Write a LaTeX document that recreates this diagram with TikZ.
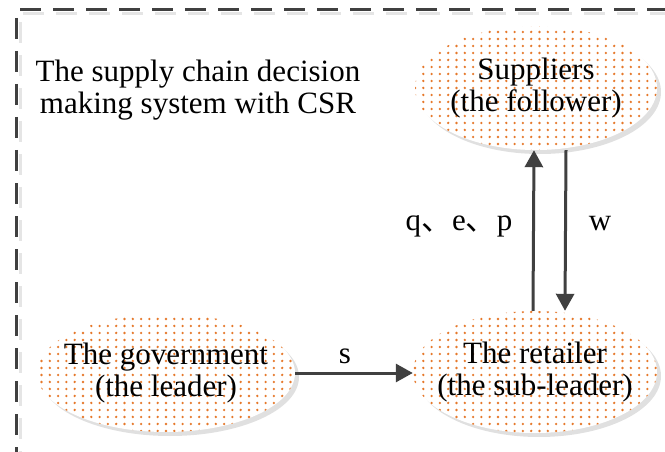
\documentclass[tikz,border=0pt]{standalone}
\usepackage{fontspec}
\setmainfont{Liberation Serif}
\newfontfamily\cjk{Noto Sans CJK SC}
\usetikzlibrary{arrows.meta,shapes.geometric,shadows,patterns}
% small orange dots on a regular grid
\pgfdeclarepatternformonly{orangedots}{\pgfqpoint{-2pt}{-2pt}}{\pgfqpoint{2pt}{2pt}}{\pgfqpoint{8.3pt}{7pt}}{\pgfpathcircle{\pgfpointorigin}{1.3pt}\pgfusepath{fill}}
\definecolor{dotorange}{HTML}{E6782A}
\definecolor{arrowgray}{HTML}{404040}
\tikzset{
  player/.style={ellipse, inner xsep=-25pt, inner ysep=0pt, align=center, fill=white,
    postaction={pattern=orangedots, pattern color=dotorange},
    drop shadow={shadow xshift=4pt, shadow yshift=-4pt, fill=black!12, opacity=1}},
  flow/.style={line width=3pt, draw=arrowgray, -{Triangle[length=17pt,width=18pt,fill=arrowgray]}},
  frame/.style={line width=3pt, draw=arrowgray, dash pattern=on 21pt off 12pt},
}

\begin{document}
\begin{tikzpicture}[x=1pt, y=-1pt, font=\fontsize{31pt}{32pt}\selectfont]
\useasboundingbox (0,0) rectangle (665,452);
\clip (0,0) rectangle (665,452);
% dashed frame, open to the right and bottom
\draw[frame, draw=black!10] (23,14) -- (680,14);
\draw[frame, draw=black!10] (20,22) -- (20,470);
\draw[frame] (20,10) -- (680,10);
\draw[frame] (16,18) -- (16,470);
% title
\node[align=center] (title) at (198,90) {The supply chain decision\\making system with CSR};
% the three players
\node[player, minimum width=242pt, minimum height=124pt] (supplier) at (536,88) {Suppliers\\(the follower)};
\node[player, minimum width=244pt, minimum height=122pt] (retailer) at (535,372) {The retailer\\(the sub-leader)};
\node[player, minimum width=258pt, minimum height=118pt] (gov) at (166,373) {The government\\(the leader)};
% decisions passed between them
\draw[flow] (gov.east) -- (gov.east -| retailer.west);
\draw[flow] ([xshift=-2pt]retailer.north) -- ([xshift=-2pt]supplier.south);
\draw[flow] ([xshift=30pt]supplier.south) -- ([xshift=30pt]retailer.north);
% labels
\node[anchor=base] (slabel) at (345,363) {s};
\node[anchor=base] (qeplabel) at (459,230) {q{\cjk 、}e{\cjk 、}p};
\node[anchor=base] (wlabel) at (600,230) {w};
\end{tikzpicture}
\end{document}
